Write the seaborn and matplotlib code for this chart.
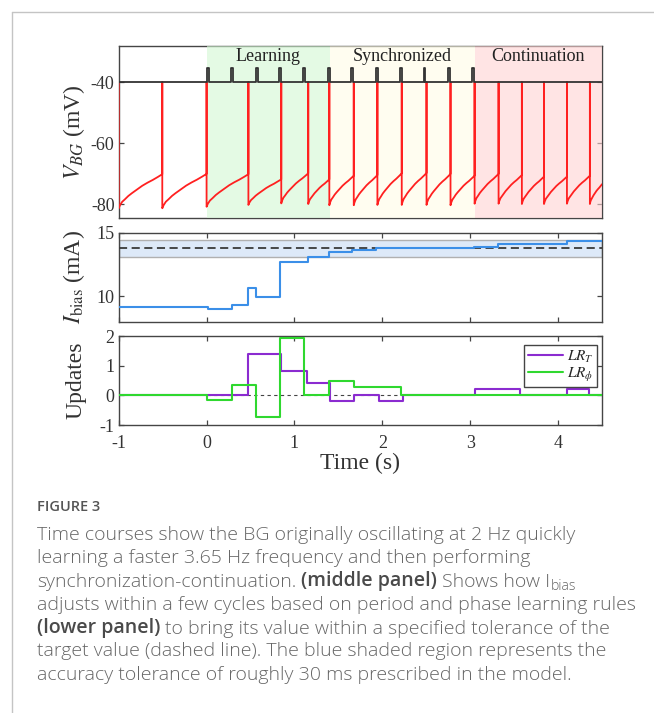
import numpy as np
import pandas as pd
import seaborn as sns
import matplotlib.pyplot as plt
from matplotlib.lines import Line2D

sns.set_theme(style="white")
plt.rcParams['font.family'] = ['Liberation Serif', 'DejaVu Serif']
plt.rcParams['mathtext.fontset'] = 'stix'
plt.rcParams['axes.unicode_minus'] = False

# ---- top panel: BG membrane potential ----
spike_t = [-1.0, -0.504, 0.0, 0.476, 0.85, 1.157, 1.397, 1.675, 1.944, 2.221,
           2.503, 2.776, 3.05, 3.323, 3.588, 3.84, 4.101, 4.362]
trough_mv = [-81.4, -81.4, -80.9, -80.3, -79.8, -80.0, -80.4, -80.4, -80.3, -80.3,
             -80.3, -80.4, -79.9, -79.9, -80.0, -80.0, -79.9, -80.0]
prespike_mv = [-70.2, -70.1, -70.2, -71.9, -69.9, -71.9, -70.7, -70.5, -69.9, -69.8,
               -70.1, -70.7, -70.1, -70.5, -71.0, -71.0, -70.7, -73.5]
t_end = 4.5
spike_peak = -40.0
# shape of one inter-spike ramp (fraction of time, fraction of rise)
ramp_f = [0.0, 0.03, 0.08, 0.14, 0.22, 0.30, 0.42, 0.54, 0.66, 0.78, 0.90, 1.0]
ramp_r = [0.0, 0.09, 0.19, 0.26, 0.36, 0.44, 0.55, 0.66, 0.75, 0.83, 0.92, 1.0]

pulse_t = [0.02, 0.29, 0.57, 0.84, 1.11, 1.39, 1.66, 1.94, 2.21, 2.48, 2.76, 3.03]
pulse_top = -35.2
pulse_width = 0.022

phase_names = ['Learning', 'Synchronized', 'Continuation']
phase_start = [0.0, 1.4, 3.05]
phase_end = [1.4, 3.05, 4.5]
phase_colors = ['#d2f8d2', '#fffde6', '#ffd2d2']

# ---- middle panel: I_bias ----
ibias_t = [-1.0, 0.02, 0.285, 0.475, 0.56, 0.84, 1.15, 1.39, 1.66, 1.93, 3.045, 3.32, 4.10, 4.5]
ibias_v = [9.15, 8.98, 9.29, 10.68, 9.97, 12.70, 13.09, 13.47, 13.62, 13.76, 13.90, 14.14, 14.35, 14.35]
ibias_target = 13.76
ibias_tol = 0.67

# ---- bottom panel: learning-rule updates ----
lrT_t = [-1.0, 0.468, 0.848, 1.148, 1.40, 1.68, 1.96, 2.23, 3.05, 3.57, 4.10, 4.355, 4.5]
lrT_v = [0.0, 1.41, 0.81, 0.41, -0.19, 0.0, -0.19, 0.0, 0.2, 0.0, 0.2, 0.0, 0.0]
lrP_t = [-1.0, 0.0, 0.285, 0.563, 0.84, 1.114, 1.39, 1.673, 2.213, 4.5]
lrP_v = [0.0, -0.14, 0.34, -0.73, 1.93, 0.0, 0.48, 0.27, 0.0, 0.0]
zero_span = [0.0, 2.22]

# build the voltage trace from spikes + ramps
ends = spike_t[1:] + [t_end]
vt, vv = [], []
for t0, t1, v0, v1 in zip(spike_t, ends, trough_mv, prespike_mv):
    vt += [t0, t0]
    vv += [spike_peak, v0]
    for f, r in zip(ramp_f, ramp_r):
        vt.append(t0 + f * (t1 - t0))
        vv.append(v0 + r * (v1 - v0))
trace = pd.DataFrame({'t': vt, 'v': vv})

bt, bv = [-1.0], [spike_peak]
for p in pulse_t:
    bt += [p - pulse_width / 2, p - pulse_width / 2, p + pulse_width / 2, p + pulse_width / 2]
    bv += [spike_peak, pulse_top, pulse_top, spike_peak]
bt.append(t_end)
bv.append(spike_peak)
stim = pd.DataFrame({'t': bt, 'v': bv})

fig = plt.figure(figsize=(6.54, 7.13), dpi=100)
L, W = 0.1815, 0.739
ax1 = fig.add_axes([L, 0.6938, W, 0.2421])
ax2 = fig.add_axes([L, 0.5488, W, 0.1248])
ax3 = fig.add_axes([L, 0.4039, W, 0.1248])

spine_c = '#454545'
for ax in (ax1, ax2, ax3):
    ax.set_xlim(-1, 4.5)
    for s in ax.spines.values():
        s.set_color(spine_c)
        s.set_linewidth(1.0)
    ax.tick_params(direction='in', length=3.5, width=0.9, color=spine_c,
                   labelsize=13, labelcolor='#333333', pad=3,
                   top=True, right=True, bottom=True, left=True)
    ax.tick_params(axis='x', pad=7)

# top panel
for name, s, e, c in zip(phase_names, phase_start, phase_end, phase_colors):
    ax1.axvspan(s, e, color=c, alpha=0.6, lw=0, zorder=2.6)
    ax1.text((s + e) / 2, -31.6, name, ha='center', va='center', fontsize=13,
             color='#222222', zorder=6)
sns.lineplot(data=trace, x='t', y='v', sort=False, estimator=None, color='#ff2020',
             lw=1.3, ax=ax1, zorder=4)
sns.lineplot(data=stim, x='t', y='v', sort=False, estimator=None, color='#333333',
             lw=1.3, ax=ax1, zorder=5, solid_joinstyle='round')
ax1.set_ylim(-84.7, -28)
ax1.set_yticks([-80, -60, -40])
ax1.set_xticks([])
ax1.set_xlabel('')
ax1.set_ylabel(r'$V_{BG}$ (mV)', fontsize=17, color='#333333')

# middle panel
ax2.axhspan(ibias_target - ibias_tol, ibias_target + ibias_tol, facecolor='#dde9f8',
            edgecolor='#b0b0b0', lw=1.0, zorder=1)
ax2.axhline(ibias_target, color='#3a3a3a', lw=1.3, ls=(0, (4.5, 2.5)), zorder=3)
sns.lineplot(x=ibias_t, y=ibias_v, estimator=None, sort=False, drawstyle='steps-post',
             color='#3b8fe8', lw=1.5, ax=ax2, zorder=4)
ax2.set_ylim(8.0, 15.0)
ax2.set_yticks([10, 15])
ax2.set_xticks([-1, 0, 1, 2, 3, 4])
ax2.set_xticklabels([])
ax2.set_ylabel(r'$I_{\mathrm{bias}}$ (mA)', fontsize=17, color='#333333')

# bottom panel
sns.lineplot(x=zero_span, y=[0, 0], estimator=None, color='#444444', lw=0.8,
             ls=(0, (3, 3)), ax=ax3, zorder=2)
sns.lineplot(x=lrT_t, y=lrT_v, estimator=None, sort=False, drawstyle='steps-post',
             color='#8b2bd0', lw=1.5, ax=ax3, zorder=3, label=r'$LR_T$')
sns.lineplot(x=lrP_t, y=lrP_v, estimator=None, sort=False, drawstyle='steps-post',
             color='#2fd82f', lw=1.5, ax=ax3, zorder=4, label=r'$LR_\phi$')
ax3.set_ylim(-1, 2)
ax3.set_yticks([-1, 0, 1, 2])
ax3.set_xticks([-1, 0, 1, 2, 3, 4])
ax3.set_ylabel('Updates', fontsize=17, color='#333333')
ax3.set_xlabel('Time (s)', fontsize=17, color='#333333', labelpad=1)
leg = ax3.legend(loc='upper right', bbox_to_anchor=(0.99, 0.9), borderaxespad=0,
                 fontsize=11, handlelength=2.3, handletextpad=0.25, labelspacing=0.05,
                 borderpad=0.25, fancybox=False, framealpha=1)
leg.get_frame().set_edgecolor('#444444')
leg.get_frame().set_linewidth(1.0)

for ax in (ax1, ax2, ax3):
    ax.yaxis.set_label_coords(-0.066, 0.5)

# page frame
fig.add_artist(Line2D([12 / 654, 1], [1 - 12 / 713] * 2, transform=fig.transFigure,
                      color='#c4c4c4', lw=1.0))
fig.add_artist(Line2D([12 / 654] * 2, [0, 1 - 12 / 713], transform=fig.transFigure,
                      color='#c4c4c4', lw=1.0))

# caption
cap_font = ['Open Sans', 'DejaVu Sans']
cap_c = '#666666'
cap_size = 14.0
x0 = 37 / 654
fig.text(x0, 1 - 507 / 713, 'FIGURE 3', fontsize=10.5, fontweight='semibold',
         family=cap_font, color='#555555', va='center')

lines = [
    ['Time courses show the BG originally oscillating at 2 Hz quickly'],
    ['learning a faster 3.65 Hz frequency and then performing'],
    ['synchronization-continuation.', ('b', '(middle panel)'), 'Shows how I', ('s', 'bias')],
    ['adjusts within a few cycles based on period and phase learning rules'],
    [('b', '(lower panel)'), 'to bring its value within a specified tolerance of the'],
    ['target value (dashed line). The blue shaded region represents the'],
    ['accuracy tolerance of roughly 30 ms prescribed in the model.'],
]
line_y = [535, 558.3, 581.6, 604.9, 628.2, 651.5, 674.8]
space_pt = 0.25 * cap_size
for parts, yy in zip(lines, line_y):
    prev = None
    for part in parts:
        kind, s = part if isinstance(part, tuple) else ('n', part)
        kw = dict(family=cap_font, color=cap_c, fontsize=cap_size,
                  fontweight='semibold' if kind == 'b' else 'light')
        if kind == 'b':
            kw['color'] = '#4a4a4a'
        if prev is None:
            prev = fig.text(x0, 1 - yy / 713, s, va='center', **kw)
        elif kind == 's':
            kw['fontsize'] = cap_size * 0.72
            prev = ax1.annotate(s, xy=(1, 0), xycoords=prev, xytext=(0.3, -2.5),
                                textcoords='offset points', va='bottom', ha='left', **kw)
        else:
            prev = ax1.annotate(s, xy=(1, 0), xycoords=prev, xytext=(space_pt, 0),
                                textcoords='offset points', va='bottom', ha='left', **kw)

fig.savefig('out.png', dpi=100, facecolor='white')
